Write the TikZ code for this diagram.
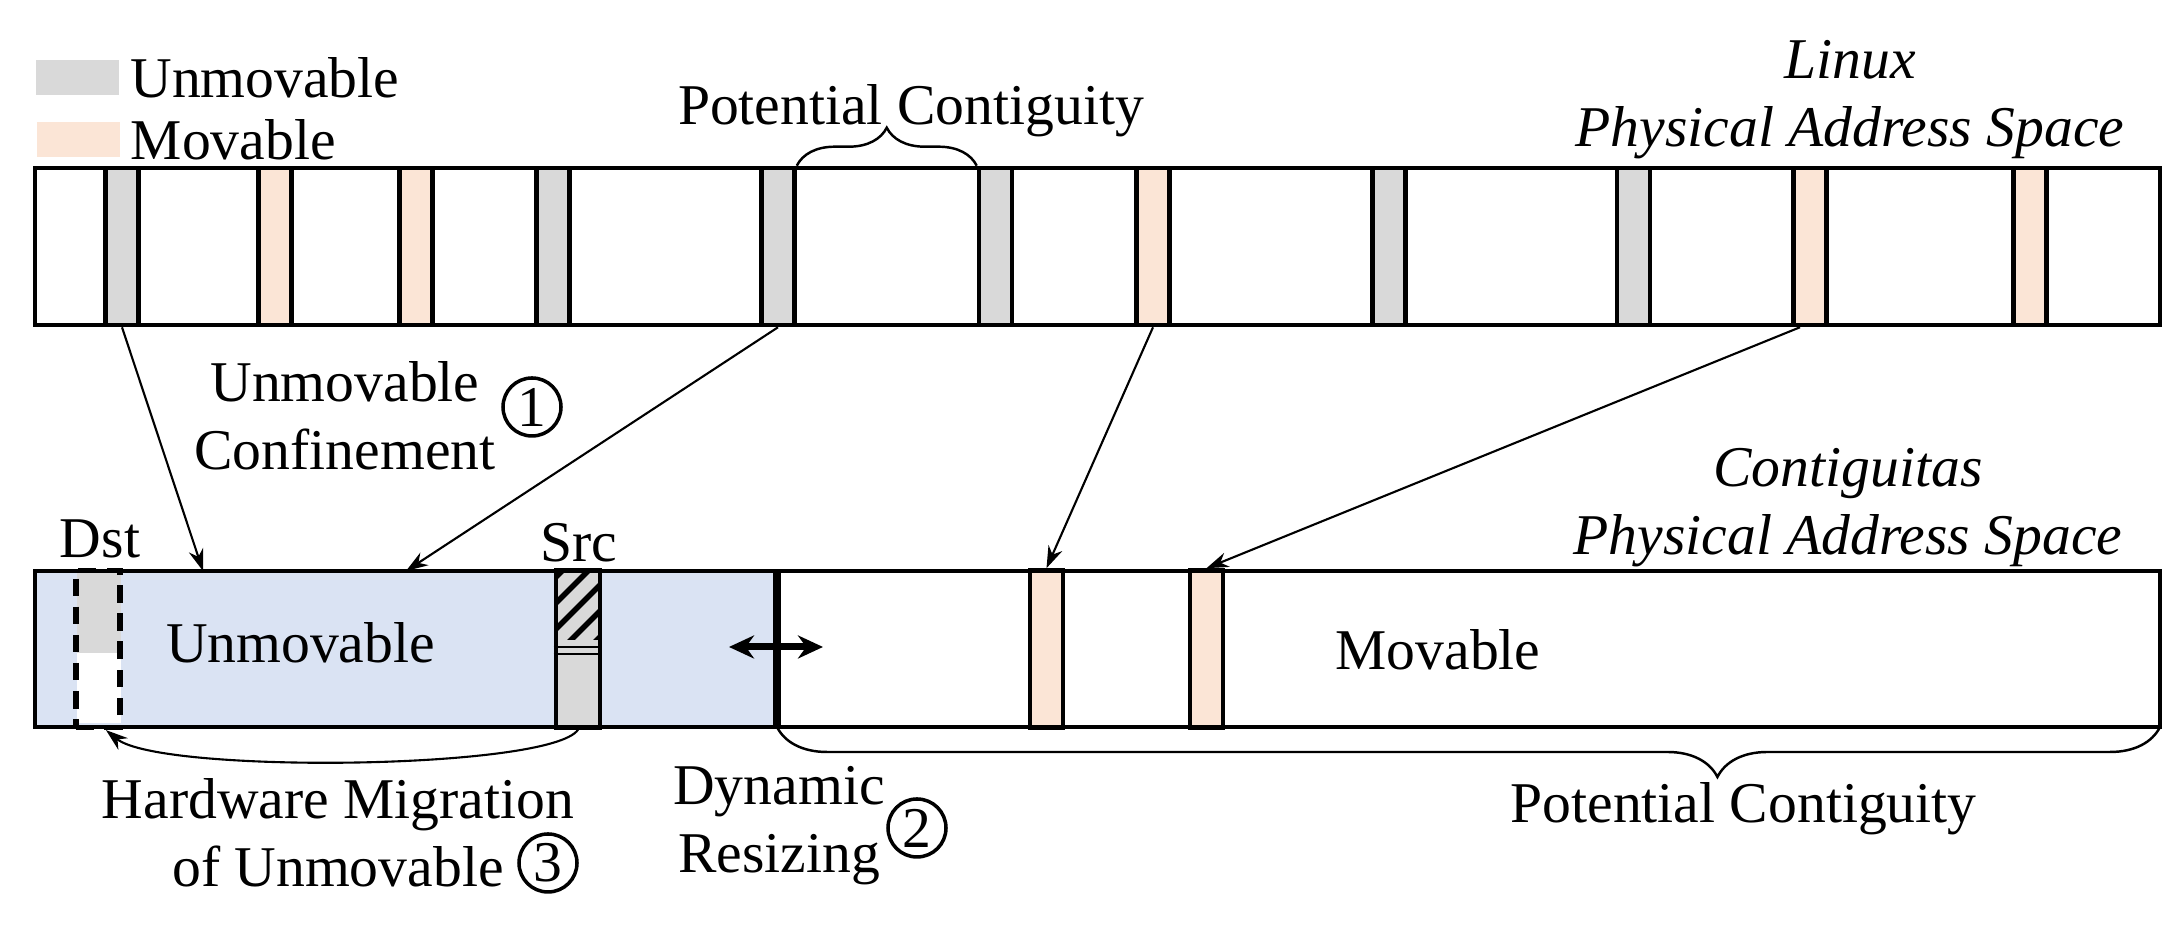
\documentclass[tikz,border=0pt]{standalone}
\usepackage{fontspec}
\setmainfont{Liberation Serif}
\usetikzlibrary{arrows.meta,calc,positioning,decorations.pathreplacing}

\definecolor{unmovgray}{HTML}{D9D9D9}
\definecolor{movorange}{HTML}{FBE5D6}
\definecolor{zoneblue}{HTML}{DAE3F3}

\tikzset{
  bar/.style={draw, line width=1.3pt},
  page/.style={draw, line width=1.3pt, minimum width=0.33cm, minimum height=1.57cm, inner sep=0pt},
  unmov/.style={page, fill=unmovgray},
  mov/.style={page, fill=movorange},
  key/.style={minimum width=0.83cm, minimum height=0.35cm, inner sep=0pt},
  lbl/.style={inner sep=0pt, align=center},
  num/.style={circle, draw, line width=1pt, minimum size=0.58cm, inner sep=0pt},
  map/.style={->, line width=0.6pt},
  curly/.style={line width=0.7pt, decorate},
}

\begin{document}
\fontsize{16.4pt}{19.6pt}\selectfont
\begin{tikzpicture}[>={Stealth[length=0.22cm,width=0.15cm]}]
  \useasboundingbox (0,0) rectangle (21.67,9.42);
  % Legend
  \node[key, fill=unmovgray] (keyU) at (0.775,8.645) {};
  \node[key, fill=movorange] (keyM) at (0.78,8.025) {};
  \node[lbl, right=0.1cm of keyU] (keyUtxt) {Unmovable};
  \node[lbl, right=0.1cm of keyM] (keyMtxt) {Movable};

  % Linux address space
  \draw[bar, fill=white] (0.35,6.17) rectangle (21.60,7.74);
  \foreach \x/\kind [count=\i] in {1.22/unmov, 2.75/mov, 4.16/mov, 5.53/unmov,
      7.78/unmov, 9.955/unmov, 11.53/mov, 13.89/unmov, 16.335/unmov, 18.10/mov, 20.30/mov}
    \node[\kind] (t\i) at (\x,6.955) {};
  \node[lbl, anchor=base, font=\itshape] (linuxlbl) at (18.50,7.95) {Linux\\Physical Address Space};
  % Gap between two unmovable pages
  \draw[curly, decoration={brace, amplitude=0.38cm}] (t5.north east) -- (t6.north west);
  \node[lbl, anchor=base] (pctop) at (9.11,8.17) {Potential Contiguity};

  % Contiguitas address space
  \fill[zoneblue] (0.35,2.15) rectangle (7.77,3.71);
  \fill[unmovgray] (0.77,3.71) rectangle (1.21,2.89);
  \fill[white] (0.77,2.89) rectangle (1.21,2.19);
  \draw[bar] (0.35,2.15) rectangle (21.60,3.71);
  \node[draw, line width=1.5pt, dash pattern=on 5pt off 3pt, minimum width=0.44cm,
    minimum height=1.57cm, inner sep=0pt] (dst) at (0.98,2.93) {};
  \node[page, fill=unmovgray, minimum width=0.44cm] (src) at (5.78,2.93) {};
  % Hatched part of the source page
  \begin{scope}
    \clip (5.58,3.02) rectangle (5.98,3.69);
    \foreach \d in {0,...,5}
      \draw[line width=1.6pt] (5.50,2.55+0.26*\d) -- ++(0.6,0.6);
  \end{scope}
  \draw[line width=0.4pt] (src.west |- 0,2.95) -- (src.east |- 0,2.95);
  \draw[line width=0.4pt] (src.west |- 0,2.88) -- (src.east |- 0,2.88);
  \draw[line width=2pt] (7.77,2.15) -- (7.77,3.71);
  \node[mov] (b1) at (10.465,2.93) {};
  \node[mov] (b2) at (12.065,2.93) {};
  \node[lbl, anchor=base] (dstlbl) at (1.00,3.84) {Dst};
  \node[lbl, anchor=base] (srclbl) at (5.785,3.80) {Src};
  \node[lbl, anchor=base] (unmovlbl) at (3.005,2.79) {Unmovable};
  \node[lbl, anchor=base] (movlbl) at (14.38,2.72) {Movable};
  \node[lbl, anchor=base, font=\itshape] (contlbl) at (18.48,3.87) {Contiguitas\\Physical Address Space};

  % Mapping of pages
  \coordinate (in1) at (2.03,3.71);
  \coordinate (in2) at (4.06,3.71);
  \draw[map] (t1.south) -- (in1);
  \draw[map] (t5.south) -- (in2);
  \draw[map] (t7.south) -- (b1.north);
  \draw[map] ([xshift=-0.1cm]t10.south) -- (b2.north);
  \node[lbl, anchor=base] (conflbl) at (3.45,4.72) {Unmovable\\Confinement};
  \node[num] (n1) at (5.32,5.35) {1};

  % Resizing the boundary
  \coordinate (rzL) at (7.29,2.95);
  \coordinate (rzR) at (8.23,2.95);
  \draw[<->, line width=2pt, >={Stealth[length=0.25cm,width=0.23cm]}] (rzL) -- (rzR);
  \node[lbl, anchor=base] (dynlbl) at (7.79,0.69) {Dynamic\\Resizing};
  \node[num] (n2) at (9.17,1.14) {2};

  % Hardware migration
  \draw[map] (src.south) .. controls (5.5,1.72) and (1.6,1.68) .. ([xshift=0.08cm]dst.south);
  \node[lbl, anchor=base] (miglbl) at (3.38,0.55) {Hardware Migration\\of Unmovable};
  \node[num] (n3) at (5.48,0.79) {3};

  % Movable region
  \coordinate (bbL) at (7.77,2.15);
  \coordinate (bbR) at (21.60,2.15);
  \draw[curly, decoration={brace, amplitude=0.5cm, aspect=0.68, mirror}] (bbL) -- (bbR);
  \node[lbl, anchor=base] (pcbot) at (17.435,1.19) {Potential Contiguity};
\end{tikzpicture}
\end{document}
